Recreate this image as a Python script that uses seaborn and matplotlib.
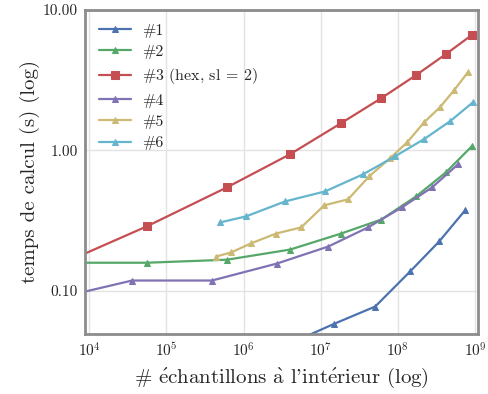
import numpy as np
import pandas as pd
import seaborn as sns
import matplotlib.pyplot as plt
from matplotlib.ticker import FixedLocator, FixedFormatter, NullLocator

# --- timing data: samples inside vs. compute time (s) ---
x_main = [5e3, 5.6e4, 6.1e5, 4.0e6, 1.84e7, 6.1e7, 1.72e8, 4.2e8, 9.1e8]

x1 = [4.0e6, 1.49e7, 5.07e7, 1.44e8, 3.42e8, 7.4e8]
t1 = [0.042, 0.058, 0.077, 0.137, 0.224, 0.373]

x2 = x_main
t2 = [0.158, 0.158, 0.166, 0.196, 0.255, 0.321, 0.469, 0.697, 1.07]

x3 = x_main
t3 = [0.160, 0.287, 0.544, 0.936, 1.56, 2.35, 3.43, 4.85, 6.63]

x4 = [5e3, 3.6e4, 3.9e5, 2.72e6, 1.25e7, 4.1e7, 1.13e8, 2.77e8, 6.0e8]
t4 = [0.0914, 0.118, 0.118, 0.156, 0.206, 0.282, 0.392, 0.544, 0.794]

x5 = [4.42e5, 6.9e5, 1.25e6, 2.64e6, 5.57e6, 1.11e7, 2.26e7, 4.24e7,
      7.9e7, 1.32e8, 2.18e8, 3.52e8, 5.35e8, 8.1e8]
t5 = [0.175, 0.187, 0.217, 0.255, 0.282, 0.405, 0.447, 0.652,
      0.877, 1.14, 1.58, 2.03, 2.68, 3.61]

x6 = [4.98e5, 1.08e6, 3.46e6, 1.14e7, 3.54e7, 9.2e7, 2.18e8, 4.74e8, 9.4e8]
t6 = [0.306, 0.338, 0.432, 0.509, 0.674, 0.906, 1.2, 1.61, 2.2]

labels = ["#1", "#2", r"#3 (hex, sl $\!=\!$ 2)", "#4", "#5", "#6"]
y_ticks = [0.1, 1.0, 10.0]
y_tick_labels = ["0.10", "1.00", "10.00"]
x_label = (r"# $\mathrm{\acute{e}}$chantillons $\mathrm{\grave{a}}$ "
           r"l'int$\mathrm{\acute{e}}$rieur (log)")
y_label = "temps de calcul (s) (log)"

sns.set_theme(style="whitegrid")
plt.rcParams["font.family"] = ["cmr10", "DejaVu Serif"]
plt.rcParams["mathtext.fontset"] = "cm"
plt.rcParams["axes.formatter.use_mathtext"] = True
plt.rcParams["axes.unicode_minus"] = False

palette = sns.color_palette("deep6")
series = [(x1, t1), (x2, t2), (x3, t3), (x4, t4), (x5, t5), (x6, t6)]
markers = ["^", "^", "s", "^", "^", "^"]
msizes = [5, 5, 6, 5, 5, 5]

fig = plt.figure(figsize=(4.89, 3.94), dpi=100)
ax = fig.add_axes([0.174, 0.152, 0.804, 0.823])

for (xs, ts), lab, col, mk, ms in zip(series, labels, palette, markers, msizes):
    df = pd.DataFrame({"x": xs, "t": ts})
    sns.lineplot(data=df, x="x", y="t", ax=ax, color=col, marker=mk,
                 markersize=ms, markeredgecolor=col, linewidth=1.6,
                 label=lab, sort=False)

ax.set_xscale("log")
ax.set_yscale("log")
ax.set_xlim(10 ** 3.948, 10 ** 9.04)
ax.set_ylim(0.049, 10.0)
ax.yaxis.set_major_locator(FixedLocator(y_ticks))
ax.yaxis.set_major_formatter(FixedFormatter(y_tick_labels))
ax.yaxis.set_minor_locator(NullLocator())
ax.xaxis.set_minor_locator(NullLocator())
ax.tick_params(labelsize=11, length=0, pad=5, colors="0.15")

ax.grid(True, which="major", color="0.89", linewidth=1.0)
for sp in ax.spines.values():
    sp.set_color("0.55")
    sp.set_linewidth(2.0)

ax.set_xlabel(x_label, fontsize=15, labelpad=5)
ax.set_ylabel(y_label, fontsize=15, labelpad=2)

ax.legend(loc="upper left", frameon=False, fontsize=11.5, handlelength=2.0,
          handletextpad=0.7, labelspacing=0.45, borderaxespad=0.45)

fig.savefig("out.png", dpi=100)
